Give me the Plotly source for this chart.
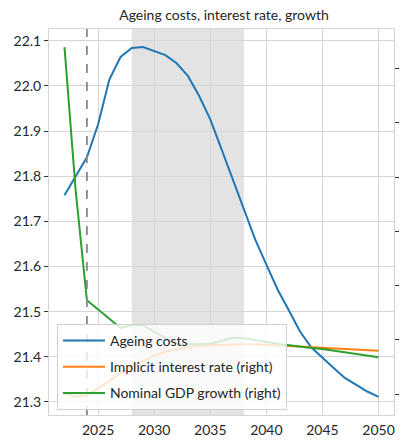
import plotly.graph_objects as go

years = list(range(2022, 2051))

# ageing costs (left axis)
ageing_costs = [21.758, 21.800, 21.842, 21.915, 22.014, 22.064, 22.084, 22.086, 22.077,
                22.068, 22.050, 22.022, 21.978, 21.926, 21.860, 21.793, 21.723, 21.660,
                21.604, 21.549, 21.503, 21.456, 21.421, 21.397, 21.375, 21.353, 21.338,
                21.323, 21.311]

# implicit interest rate (right axis)
interest_rate = [2.02, 1.95, 1.98, 2.11, 2.24, 2.39, 2.51, 2.61, 2.71, 2.78, 2.83, 2.87,
                 2.89, 2.90, 2.91, 2.92, 2.92, 2.92, 2.91, 2.90, 2.89, 2.88, 2.87, 2.86,
                 2.85, 2.84, 2.83, 2.82, 2.80]

# nominal GDP growth (right axis)
gdp_growth = [8.40, 5.75, 3.73, 3.56, 3.40, 3.22, 3.27, 3.27, 3.15, 3.03, 2.93, 2.92,
              2.92, 2.93, 2.98, 3.04, 3.03, 2.99, 2.96, 2.93, 2.90, 2.87, 2.85, 2.83,
              2.80, 2.77, 2.74, 2.71, 2.68]

left_ticks = [21.3, 21.4, 21.5, 21.6, 21.7, 21.8, 21.9, 22.0, 22.1]
right_ticks = [2, 3, 4, 5, 6, 7, 8]
x_ticks = [2025, 2030, 2035, 2040, 2045, 2050]

FONT = "Lato"
GRID = "#d5d5d5"

fig = go.Figure()

fig.add_trace(go.Scatter(
    x=years, y=ageing_costs, mode="lines", name="Ageing costs",
    line=dict(color="#1f77b4", width=2), legendgroup="a",
))
fig.add_trace(go.Scatter(
    x=years, y=interest_rate, mode="lines", name="Implicit interest rate (right)",
    line=dict(color="#ff7f0e", width=2), yaxis="y2", legendgroup="b",
))
fig.add_trace(go.Scatter(
    x=years, y=gdp_growth, mode="lines", name="Nominal GDP growth (right)",
    line=dict(color="#2ca02c", width=2), yaxis="y2", legendgroup="c",
))

# shaded period and the vertical marker
fig.add_vrect(x0=2028, x1=2038, fillcolor="#e3e3e3", line_width=0, layer="below")
fig.add_vline(x=2024, line=dict(color="#888888", dash="dash", width=1.8))

fig.update_layout(
    width=401, height=441,
    margin=dict(l=49, r=3, t=29, b=24),
    paper_bgcolor="white", plot_bgcolor="rgba(0,0,0,0)",
    font=dict(family=FONT, size=14, color="#262626"),
    title=dict(text="Ageing costs, interest rate, growth", x=0.5585, xanchor="center",
               y=0.965, yanchor="middle", font=dict(size=14)),
    xaxis=dict(range=[2020.62, 2051.38], tickvals=x_ticks, showgrid=True, gridcolor=GRID,
               gridwidth=1, zeroline=False, showline=True, linecolor=GRID, mirror=True,
               ticks="", ticklabelstandoff=2),
    yaxis=dict(range=[21.271, 22.126], tickvals=left_ticks, tickformat=".1f", showgrid=True,
               gridcolor=GRID, zeroline=False, showline=True, linecolor=GRID, mirror=True,
               ticks="outside", ticklen=4, tickcolor="#333333"),
    yaxis2=dict(range=[1.615, 8.733], tickvals=right_ticks, overlaying="y", side="right",
                showgrid=False, zeroline=False, showticklabels=False,
                ticks="outside", ticklen=4, tickcolor="#333333"),
    legend=dict(x=0.023, y=0.013, xanchor="left", yanchor="bottom",
                bgcolor="rgba(255,255,255,0.8)", bordercolor="#d0d0d0", borderwidth=1,
                traceorder="grouped", tracegroupgap=5, itemwidth=42,
                font=dict(size=14)),
)

# drop the default page margin so the figure sits at the window's corner
fig.write_html("out.html", config={"displayModeBar": False},
               post_script="document.body.style.margin='0';")
